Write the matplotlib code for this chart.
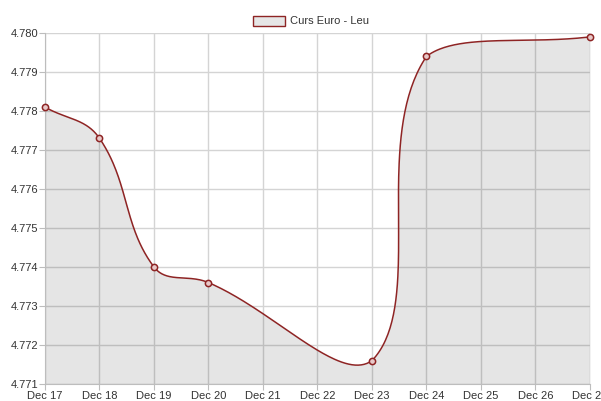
import matplotlib.pyplot as plt
import matplotlib.patches as mpatches
import numpy as np

plt.rcParams['font.family'] = ['Liberation Sans', 'DejaVu Sans']

days = [17, 18, 19, 20, 23, 24, 27]
rates = [4.7781, 4.7773, 4.7740, 4.7736, 4.7716, 4.7794, 4.7799]
tick_days = list(range(17, 28))
tick_labels = ["Dec %d" % d for d in tick_days]
y_ticks = [4.771, 4.772, 4.773, 4.774, 4.775, 4.776, 4.777, 4.778, 4.779, 4.780]
label = "Curs Euro - Leu"

W, H = 601, 401
fig = plt.figure(figsize=(W / 100, H / 100), dpi=100)
ax = fig.add_axes([45 / W, 1 - 384 / H, (590 - 45) / W, (384 - 33) / H])
ax.set_xlim(17, 27)
ax.set_ylim(4.771, 4.780)

line_col = "#8e2424"
grid_col = "#d4d4d4"


def spline(pts, t=0.4, ymin=None, ymax=None):
    # chart.js style bezier control points, in pixel space
    n = len(pts)
    ctrl = []
    for i in range(n):
        p0 = pts[max(i - 1, 0)]
        p1 = pts[i]
        p2 = pts[min(i + 1, n - 1)]
        d01 = np.hypot(*(p1 - p0))
        d12 = np.hypot(*(p2 - p1))
        s = d01 + d12
        fa = t * d01 / s if s else 0
        fb = t * d12 / s if s else 0
        cp = p1 - fa * (p2 - p0)
        cn = p1 + fb * (p2 - p0)
        cp[1] = np.clip(cp[1], ymin, ymax)
        cn[1] = np.clip(cn[1], ymin, ymax)
        ctrl.append((cp, cn))
    out = []
    u = np.linspace(0, 1, 80)[:, None]
    for i in range(n - 1):
        a, b = pts[i], pts[i + 1]
        c1, c2 = ctrl[i][1], ctrl[i + 1][0]
        seg = (1 - u) ** 3 * a + 3 * (1 - u) ** 2 * u * c1 + 3 * (1 - u) * u ** 2 * c2 + u ** 3 * b
        out.append(seg)
    return np.vstack(out)


tr = ax.transData
pix = tr.transform(np.column_stack([days, rates]))
lo = tr.transform((17, 4.771))[1]
hi = tr.transform((17, 4.780))[1]
curve = tr.inverted().transform(spline(pix, ymin=min(lo, hi), ymax=max(lo, hi)))

ax.fill_between(curve[:, 0], curve[:, 1], 4.771, color="black", alpha=0.1, lw=0, zorder=2)
ax.plot(curve[:, 0], curve[:, 1], color=line_col, lw=1.1, zorder=3)
ax.plot(days, rates, "o", ms=4.5, mfc="#e8c8c8", mec=line_col, mew=1.1, zorder=4, clip_on=False)

ax.set_xticks(tick_days)
ax.set_xticklabels(tick_labels)
ax.set_yticks(y_ticks)
ax.set_yticklabels(["%.3f" % v for v in y_ticks])
ax.grid(True, color=grid_col, lw=1, zorder=1)
ax.set_axisbelow(True)
for side in ["top", "right"]:
    ax.spines[side].set_visible(False)
for side in ["left", "bottom"]:
    ax.spines[side].set_color("#bdbdbd")
ax.tick_params(colors="#bdbdbd", labelcolor="#333333", labelsize=8, length=4, pad=1)

# legend
fig.patches.append(mpatches.Rectangle((253 / W, 1 - 26 / H), 32 / W, 10 / H,
                                      transform=fig.transFigure, facecolor="#e6e6e6",
                                      edgecolor=line_col, lw=1))
fig.text(290 / W, 1 - 21 / H, label, fontsize=8, color="#333333", va="center", ha="left")

fig.savefig("out.png", dpi=100)
